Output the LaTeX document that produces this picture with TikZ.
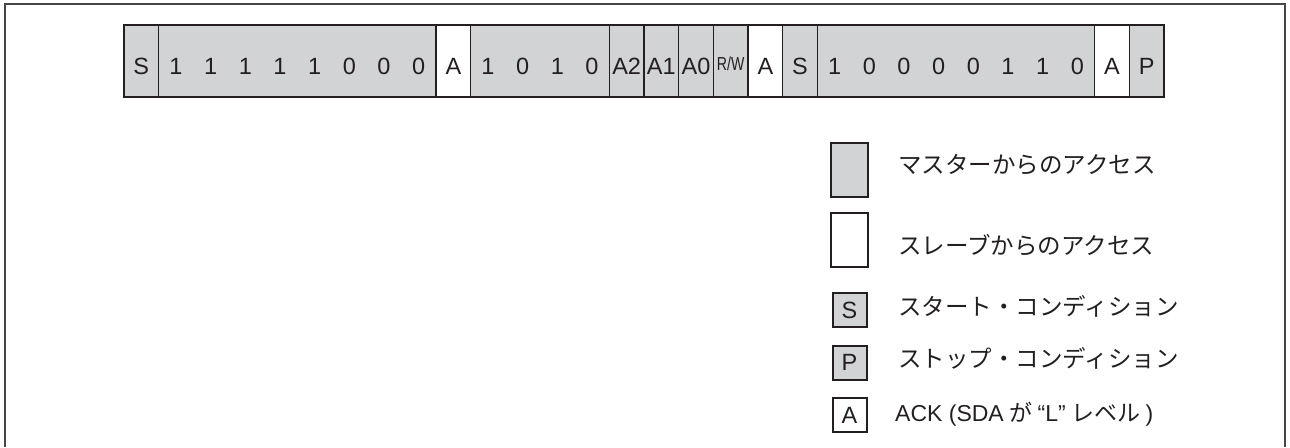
\documentclass[tikz,border=0pt]{standalone}
\usepackage{fontspec}
\setmainfont{Liberation Sans}
\newfontfamily\jp{Noto Sans CJK JP}
\definecolor{mgray}{RGB}{209,211,212}
\definecolor{ink}{RGB}{35,31,32}
\definecolor{framec}{RGB}{70,70,70}
\newcommand{\bitfont}{\fontsize{23.5}{28}\selectfont}
\newcommand{\legfont}{\fontsize{23.5}{28}\selectfont}
\def\W{34.667}
\begin{document}
\begin{tikzpicture}[x=1pt,y=-1pt,
  cell/.style={draw=ink, line width=1.1pt, minimum height=72pt, inner sep=0pt, anchor=north west, outer sep=0pt},
  bit/.style={anchor=base, inner sep=0pt, font=\bitfont, text=ink},
  leg/.style={draw=ink, line width=2pt, fill=#1, inner sep=0pt, font=\bitfont, text=ink},
  legtext/.style={anchor=base west, inner sep=0pt, font=\legfont, text=ink}]
\useasboundingbox (0,0) rectangle (1290,447);
% outer frame
\coordinate (fbl) at (5,447);
\coordinate (ftl) at (5,4);
\coordinate (ftr) at (1285,4);
\coordinate (fbr) at (1285,447);
\draw[framec, line width=1.4pt] (fbl) -- (ftl) -- (ftr) -- (fbr);
% cell groups
\foreach \n/\s/\k/\f in {gS/0/1/mgray, gD1/1/8/mgray, gA1/9/1/white, gD2/10/4/mgray,
  gA2b/14/1/mgray, gA1b/15/1/mgray, gA0b/16/1/mgray, gRW/17/1/mgray, gAk2/18/1/white,
  gS2/19/1/mgray, gD3/20/8/mgray, gAk3/28/1/white, gP/29/1/mgray}
  \node[cell, fill=\f, minimum width={\k*\W}] (\n) at ({124+\s*\W},25) {};
% bit labels
\foreach \i/\t in {0/S,1/1,2/1,3/1,4/1,5/1,6/0,7/0,8/0,9/A,10/1,11/0,12/1,13/0,
  14/A2,15/A1,16/A0,18/A,19/S,20/1,21/0,22/0,23/0,24/0,25/1,26/1,27/0,28/A,29/P}
  \node[bit] (b\i) at ({124+(\i+0.5)*\W},74) {\t};
\node[bit] (b17) at ({124+17.5*\W},74) {\raisebox{3.4pt}{\scalebox{0.6}[0.8]{R/W}}};
% outline
\draw[ink, line width=2.4pt] (gS.north west) rectangle (gP.south east);
% legend
\node[leg=mgray, minimum width=37pt, minimum height=54pt] (lm) at (849.5,170) {};
\node[leg=white, minimum width=37pt, minimum height=54pt] (ls) at (849.5,240) {};
\node[leg=mgray, minimum size=34pt] (lS) at (849.5,310) {S};
\node[leg=mgray, minimum size=34pt] (lP) at (849.5,362.5) {P};
\node[leg=white, minimum size=34pt] (lA) at (849.5,415) {A};
\node[legtext] (tm) at (898,173) {\jp マスターからのアクセス};
\node[legtext] (ts) at (898,254) {\jp スレーブからのアクセス};
\node[legtext] (tS) at (898,315) {\jp スタート・コンディション};
\node[legtext] (tP) at (898,367) {\jp ストップ・コンディション};
\node[legtext, font=\fontsize{23}{28}\selectfont] (tA) at (895,421) {ACK (SDA\hspace{-1pt} {\jp が}\hspace{-1pt} “L”\hspace{-1pt} {\jp レベル}\hspace{-1pt} )};
\end{tikzpicture}
\end{document}
